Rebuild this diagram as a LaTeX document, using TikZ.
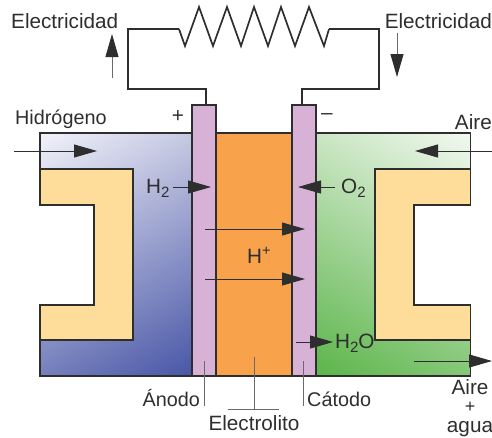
\documentclass[tikz,border=0pt]{standalone}
\usepackage{fontspec}
\setmainfont{Liberation Sans}
\usetikzlibrary{arrows.meta}
\definecolor{ink}{HTML}{2E2E2E}
\definecolor{leader}{HTML}{6A6A6A}
\definecolor{plate}{HTML}{D7B2D6}
\definecolor{electrolyte}{HTML}{F9A24C}
\definecolor{seal}{HTML}{FEDC9A}
\definecolor{hydrolight}{HTML}{F6F6FB}
\definecolor{hydrodark}{HTML}{4452A4}
\definecolor{airlight}{HTML}{F6FAF4}
\definecolor{airdark}{HTML}{58B346}
\pgfdeclareverticalshading{hydroshade}{100bp}{color(0bp)=(hydrodark); color(14bp)=(hydrodark); color(86bp)=(hydrolight); color(100bp)=(hydrolight)}
\pgfdeclareverticalshading{airshade}{100bp}{color(0bp)=(airdark); color(14bp)=(airdark); color(86bp)=(airlight); color(100bp)=(airlight)}
\newcommand{\lowtwo}{\raisebox{-.45ex}{\fontsize{15}{15}\selectfont 2}}
\tikzset{
  wall/.style={draw=ink, line width=1.2pt},
  wire/.style={draw=ink, line width=1.2pt},
  flow/.style={draw=ink, line width=.9pt, -{Triangle[length=23pt,width=13pt,fill=ink,color=ink]}},
  leadline/.style={draw=leader, line width=.9pt},
  lbl/.style={text=ink, inner sep=0pt, font=\fontsize{20.7}{22}\selectfont},
  lblsmall/.style={lbl, font=\fontsize{19.8}{22}\selectfont}
}
\begin{document}
\begin{tikzpicture}[x=1pt,y=-1pt]
\useasboundingbox (0,0) rectangle (492,437);
\shade [wall, shading=hydroshade, shading angle=30] (40,133)--(192,133)--(192,376)--(40,376)--(40,340)--(133,340)--(133,169)--(40,169)--cycle;
\shade [wall, shading=airshade, shading angle=-30] (470.5,133)--(316,133)--(316,376)--(470.5,376)--(470.5,340)--(375,340)--(375,169)--(470.5,169)--cycle;
\draw [wall, fill=seal] (40,169)--(133,169)--(133,340)--(40,340)--(40,305)--(94,305)--(94,205)--(40,205)--cycle;
\draw [wall, fill=seal] (470.5,169)--(375,169)--(375,340)--(470.5,340)--(470.5,305)--(414,305)--(414,205)--(470.5,205)--cycle;
\draw [wall, fill=electrolyte] (216,133) rectangle (292,376);
\draw [wall, fill=plate] (192,105) rectangle (216,376);
\draw [wall, fill=plate] (292,105) rectangle (316,376);
% outer circuit
\draw [wire] (206,105)--(206,89)--(128,89)--(128,29)--(179,29);
\draw [wire] (302,105)--(302,89)--(379,89)--(379,29)--(329,29);
\draw [draw=ink, line width=1.7pt] (179,29)--(185,46)--(199,7)--(213,46)--(227,7)--(241,46)--(254,7)--(268,46)--(281,7)--(295,46)--(309,7)--(324,46)--(329,29);
% flows
\draw [flow, draw=leader] (112,78)--(112,34);
\draw [flow, draw=leader] (397,33)--(397,77);
\draw [flow] (14,151)--(97,151);
\draw [flow] (492,151)--(415,151);
\draw [flow] (173,187)--(211,187);
\draw [flow] (335,187)--(298,187);
\draw [flow] (205,229)--(305,229);
\draw [flow] (205,279)--(305,279);
\draw [flow] (296,342)--(333,342);
\draw [flow] (414,361)--(492,361);
% leaders
\draw [leadline] (204,361)--(204,406);
\draw [leadline] (303,361)--(303,406);
\draw [leadline] (254,357)--(254,409);
\draw [leadline] (228,409)--(279,409);
% labels
\node [lbl, anchor=base west] (elecL) at (11,28) {Electricidad};
\node [lbl, anchor=base east] (elecR) at (492,28) {Electricidad};
\node [lblsmall, anchor=base west] (hydrogen) at (15,124) {Hidrógeno};
\node [lbl] (plus) at (178,117) {+};
\node [lbl] (minus) at (327,117) {–};
\node [lbl, anchor=base east] (airIn) at (492,129) {Aire};
\node [lbl, anchor=base west] (htwo) at (146,193) {H\lowtwo};
\node [lbl, anchor=base west] (otwo) at (341,193) {O\lowtwo};
\node [lbl, anchor=base west] (hplus) at (247,263) {H\textsuperscript{+}};
\node [lbl, anchor=base west] (water) at (335,348) {H\lowtwo O};
\node [lblsmall, anchor=base east] (anode) at (200,406) {Ánodo};
\node [lblsmall, anchor=base west] (cathode) at (307,406) {Cátodo};
\node [lbl, anchor=base] (electrolyteL) at (254,430) {Electrolito};
\node [lbl, anchor=base] (airOut) at (470,394) {Aire};
\node [lbl, anchor=base, font=\fontsize{18}{18}\selectfont] (airPlus) at (470,412) {+};
\node [lbl, anchor=base] (water2) at (470,432) {agua};
\end{tikzpicture}
\end{document}
